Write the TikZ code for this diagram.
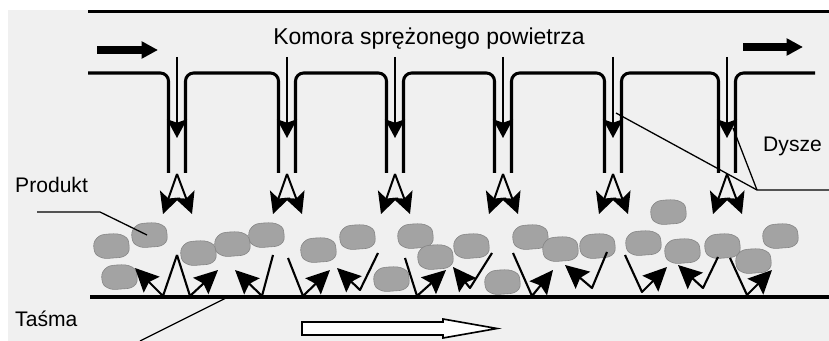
\documentclass[tikz,border=0pt]{standalone}
\usepackage{fontspec}
\setmainfont{Liberation Sans}
\usetikzlibrary{arrows.meta}

\tikzset{
  wall/.style={line width=2.6pt, rounded corners=7pt},
  jet/.style={line width=1.7pt, -{Stealth[length=18pt,width=18pt,inset=4pt]}},
  rebound/.style={line width=1.8pt, line join=round, -{Stealth[length=20pt 0 0,width=19pt 0 0,inset=3pt]}},
  leader/.style={line width=1.1pt},
  blob/.style={fill=black!36, draw=black!48, line width=0.5pt},
  lbl/.style={font=\fontsize{18}{22}\selectfont, inner sep=0pt, anchor=base west},
}

\begin{document}
\begin{tikzpicture}[x=0.03cm, y=-0.03cm]
\useasboundingbox (0,0) rectangle (829,341);
\fill[black!6] (8,10) rectangle (829,341);

% chamber
\draw[line width=3.4pt] (88,11.5) -- (829,11.5);
\node[font=\fontsize{19.6}{24}\selectfont, inner sep=0pt, anchor=base] (komora) at (429,44.5) {Komora sprężonego powietrza};
\draw[line width=6pt, -{Triangle[length=14pt,width=14pt]}] (97,50) -- (158,50);
\draw[line width=6pt, -{Triangle[length=14pt,width=14pt]}] (743,47) -- (803,47);

% nozzles
\draw[wall] (88,73) -- (168.5,73) -- (168.5,173);
\foreach \a/\b in {177/287,287/395,395/503,503/613,613/727}
  \draw[wall] (\a+8.5,173) -- (\a+8.5,73) -- (\b-8.5,73) -- (\b-8.5,173);
\draw[wall] (735.5,173) -- (735.5,73) -- (815,73);

% product
\foreach \x/\y in {111/246,149/235,119/277,198/253,232/244,266/235,318/250,
    357/237,391/279,415/236,435/257,471/246,502/282,530/237,560/249,597/246,
    668/212,643/243,682/251,722/246,780/236,753/261}
  \path[blob, shift={(\x,\y)}] plot[smooth cycle, tension=0.8]
    coordinates {(-17,3) (-14,-8) (-2,-12) (13,-10) (18,-1) (15,9) (2,12) (-11,11)};

% air jets
\foreach \x in {177,287,395,503,613,727} {
  \draw[jet, -{Stealth[length=16pt,width=17pt,inset=3pt]}] (\x,57) -- (\x,138);
  \draw[jet] (\x,174) -- (\x-14,214);
  \draw[jet] (\x,174) -- (\x+15,214);
}

% jets bouncing off the belt
\foreach \tx/\ty/\bx/\by/\hx/\hy in {
    177/255/163/296/135/268, 177/255/190/296/218/270,
    273/255/262/296/235/270, 288/258/303/296/330/270,
    378/253/360/290/337/268, 405/258/417/296/446/270,
    492/253/470/288/453/267, 513/253/532/296/553/270,
    607/252/592/288/565/265, 625/255/642/292/667/267,
    718/257/703/288/678/265, 730/258/747/295/772/270}
  \draw[rebound] (\tx,\ty) -- (\bx,\by) -- (\hx,\hy);

% belt
\draw[line width=3.2pt] (90,297) -- (829,297);
\draw[line width=1.4pt, fill=white] (302,322) -- (443,322) -- (443,319) -- (497,328.5)
  -- (443,338) -- (443,335) -- (302,335) -- cycle;

% labels
\node[lbl] (prod) at (15,193) {Produkt};
\coordinate (p1) at (37,212);
\coordinate (p2) at (100,212);
\coordinate (p3) at (147,235);
\draw[leader] (p1) -- (p2) -- (p3);

\node[lbl] (tasma) at (15,326) {Taśma};
\coordinate (t1) at (140,341);
\coordinate (t2) at (228,297);
\draw[leader] (t1) -- (t2);

\node[lbl] (dysze) at (763,152) {Dysze};
\coordinate (d0) at (829,190);
\coordinate (d1) at (757,190);
\coordinate (d2) at (616,113);
\coordinate (d3) at (733,128);
\draw[leader] (d0) -- (d1) -- (d2);
\draw[leader] (d1) -- (d3);
\end{tikzpicture}
\end{document}
